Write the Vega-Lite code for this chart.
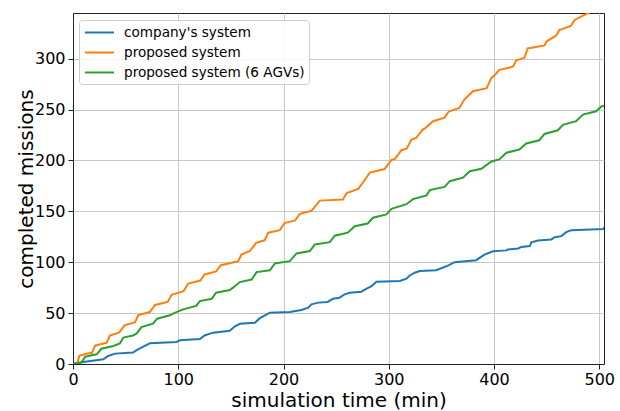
{
  "$schema": "https://vega.github.io/schema/vega-lite/v6.json",
  "width": 531,
  "height": 351,
  "autosize": {"type": "none"},
  "padding": {"left": 73, "top": 13, "right": 16, "bottom": 47},
  "background": "white",
  "config": {
    "font": "DejaVu Sans",
    "view": {"stroke": "#222222", "strokeWidth": 1},
    "axis": {
      "labelFont": "DejaVu Sans",
      "titleFont": "DejaVu Sans",
      "labelFontSize": 16,
      "titleFontSize": 20,
      "titleFontWeight": "normal",
      "labelColor": "#000000",
      "titleColor": "#000000",
      "tickColor": "#222222",
      "tickSize": 5,
      "domainColor": "#222222",
      "gridColor": "#c8c8c8",
      "gridWidth": 1
    },
    "legend": {"labelFont": "DejaVu Sans"}
  },
  "data": {
    "values": [
      {"series": "company's system", "t": 0, "v": 0},
      {"series": "company's system", "t": 2, "v": 0.7},
      {"series": "company's system", "t": 9.8, "v": 2},
      {"series": "company's system", "t": 28.8, "v": 4.6},
      {"series": "company's system", "t": 33.5, "v": 7.9},
      {"series": "company's system", "t": 40, "v": 10.2},
      {"series": "company's system", "t": 57, "v": 11.2},
      {"series": "company's system", "t": 60.5, "v": 13.7},
      {"series": "company's system", "t": 65, "v": 16},
      {"series": "company's system", "t": 73, "v": 20.3},
      {"series": "company's system", "t": 98.4, "v": 21.6},
      {"series": "company's system", "t": 101.6, "v": 23.3},
      {"series": "company's system", "t": 120.6, "v": 24.5},
      {"series": "company's system", "t": 125, "v": 28},
      {"series": "company's system", "t": 133, "v": 30.8},
      {"series": "company's system", "t": 149, "v": 32.6},
      {"series": "company's system", "t": 153.8, "v": 37},
      {"series": "company's system", "t": 158.5, "v": 39.5},
      {"series": "company's system", "t": 172.8, "v": 40.6},
      {"series": "company's system", "t": 177.5, "v": 45},
      {"series": "company's system", "t": 181, "v": 47},
      {"series": "company's system", "t": 187, "v": 50.4},
      {"series": "company's system", "t": 206, "v": 51},
      {"series": "company's system", "t": 217, "v": 53},
      {"series": "company's system", "t": 223.4, "v": 55.3},
      {"series": "company's system", "t": 226.6, "v": 58.6},
      {"series": "company's system", "t": 233, "v": 60.3},
      {"series": "company's system", "t": 242, "v": 61},
      {"series": "company's system", "t": 247, "v": 64.2},
      {"series": "company's system", "t": 253, "v": 65},
      {"series": "company's system", "t": 258, "v": 68.4},
      {"series": "company's system", "t": 263, "v": 70},
      {"series": "company's system", "t": 274, "v": 71},
      {"series": "company's system", "t": 279, "v": 74},
      {"series": "company's system", "t": 283.6, "v": 76.5},
      {"series": "company's system", "t": 288.3, "v": 80.9},
      {"series": "company's system", "t": 310.5, "v": 81.5},
      {"series": "company's system", "t": 316.8, "v": 83.8},
      {"series": "company's system", "t": 320, "v": 87},
      {"series": "company's system", "t": 324.7, "v": 89.7},
      {"series": "company's system", "t": 329.5, "v": 91.3},
      {"series": "company's system", "t": 345, "v": 92.2},
      {"series": "company's system", "t": 354.8, "v": 96},
      {"series": "company's system", "t": 362.6, "v": 100},
      {"series": "company's system", "t": 383, "v": 102},
      {"series": "company's system", "t": 391, "v": 107.5},
      {"series": "company's system", "t": 399, "v": 110.8},
      {"series": "company's system", "t": 411.8, "v": 111.6},
      {"series": "company's system", "t": 413, "v": 112.5},
      {"series": "company's system", "t": 423, "v": 113.5},
      {"series": "company's system", "t": 426, "v": 115},
      {"series": "company's system", "t": 434, "v": 115.8},
      {"series": "company's system", "t": 435.5, "v": 119.5},
      {"series": "company's system", "t": 441.8, "v": 121.4},
      {"series": "company's system", "t": 454.5, "v": 122.4},
      {"series": "company's system", "t": 457.6, "v": 124.6},
      {"series": "company's system", "t": 464, "v": 125.6},
      {"series": "company's system", "t": 468.7, "v": 129.5},
      {"series": "company's system", "t": 473.4, "v": 131.5},
      {"series": "company's system", "t": 503.5, "v": 132.5},
      {"series": "company's system", "t": 505, "v": 134},

      {"series": "proposed system", "t": 0, "v": 0},
      {"series": "proposed system", "t": 4, "v": 0},
      {"series": "proposed system", "t": 6, "v": 8},
      {"series": "proposed system", "t": 13, "v": 10},
      {"series": "proposed system", "t": 18, "v": 11},
      {"series": "proposed system", "t": 21, "v": 18},
      {"series": "proposed system", "t": 32, "v": 21},
      {"series": "proposed system", "t": 35, "v": 28},
      {"series": "proposed system", "t": 44, "v": 31},
      {"series": "proposed system", "t": 49, "v": 38},
      {"series": "proposed system", "t": 59, "v": 41},
      {"series": "proposed system", "t": 62, "v": 48},
      {"series": "proposed system", "t": 73, "v": 51},
      {"series": "proposed system", "t": 78, "v": 58},
      {"series": "proposed system", "t": 90, "v": 61},
      {"series": "proposed system", "t": 93.7, "v": 68},
      {"series": "proposed system", "t": 105, "v": 71.5},
      {"series": "proposed system", "t": 109.5, "v": 79},
      {"series": "proposed system", "t": 121, "v": 82},
      {"series": "proposed system", "t": 125, "v": 88},
      {"series": "proposed system", "t": 136, "v": 91},
      {"series": "proposed system", "t": 140.5, "v": 97},
      {"series": "proposed system", "t": 155, "v": 100.5},
      {"series": "proposed system", "t": 157, "v": 101},
      {"series": "proposed system", "t": 160, "v": 107.5},
      {"series": "proposed system", "t": 168, "v": 111},
      {"series": "proposed system", "t": 174, "v": 119},
      {"series": "proposed system", "t": 182, "v": 121.5},
      {"series": "proposed system", "t": 185.5, "v": 129},
      {"series": "proposed system", "t": 196.5, "v": 131.5},
      {"series": "proposed system", "t": 201, "v": 138.5},
      {"series": "proposed system", "t": 211, "v": 141},
      {"series": "proposed system", "t": 215.5, "v": 147.5},
      {"series": "proposed system", "t": 226.6, "v": 150.5},
      {"series": "proposed system", "t": 234.5, "v": 160.5},
      {"series": "proposed system", "t": 256.5, "v": 161.5},
      {"series": "proposed system", "t": 260, "v": 168},
      {"series": "proposed system", "t": 271, "v": 172},
      {"series": "proposed system", "t": 277, "v": 180.5},
      {"series": "proposed system", "t": 282, "v": 188},
      {"series": "proposed system", "t": 296, "v": 191.5},
      {"series": "proposed system", "t": 302.6, "v": 200.5},
      {"series": "proposed system", "t": 306, "v": 201.5},
      {"series": "proposed system", "t": 312, "v": 210},
      {"series": "proposed system", "t": 317, "v": 211.5},
      {"series": "proposed system", "t": 321.6, "v": 220.5},
      {"series": "proposed system", "t": 326, "v": 222},
      {"series": "proposed system", "t": 332, "v": 230},
      {"series": "proposed system", "t": 335, "v": 232},
      {"series": "proposed system", "t": 342, "v": 238.5},
      {"series": "proposed system", "t": 353, "v": 242},
      {"series": "proposed system", "t": 357, "v": 248},
      {"series": "proposed system", "t": 367, "v": 251.5},
      {"series": "proposed system", "t": 372, "v": 260},
      {"series": "proposed system", "t": 380, "v": 268},
      {"series": "proposed system", "t": 393, "v": 271},
      {"series": "proposed system", "t": 397.5, "v": 281},
      {"series": "proposed system", "t": 400, "v": 283},
      {"series": "proposed system", "t": 405, "v": 289},
      {"series": "proposed system", "t": 418, "v": 292},
      {"series": "proposed system", "t": 421, "v": 298},
      {"series": "proposed system", "t": 429, "v": 301},
      {"series": "proposed system", "t": 432, "v": 310},
      {"series": "proposed system", "t": 448, "v": 313},
      {"series": "proposed system", "t": 450, "v": 317},
      {"series": "proposed system", "t": 459, "v": 322.5},
      {"series": "proposed system", "t": 462, "v": 328},
      {"series": "proposed system", "t": 473, "v": 332},
      {"series": "proposed system", "t": 476.6, "v": 338},
      {"series": "proposed system", "t": 484, "v": 342},
      {"series": "proposed system", "t": 490, "v": 345},
      {"series": "proposed system", "t": 496, "v": 349},

      {"series": "proposed system (6 AGVs)", "t": 0, "v": 0},
      {"series": "proposed system (6 AGVs)", "t": 3, "v": 0},
      {"series": "proposed system (6 AGVs)", "t": 8, "v": 1.5},
      {"series": "proposed system (6 AGVs)", "t": 11.4, "v": 7},
      {"series": "proposed system (6 AGVs)", "t": 17.8, "v": 8.5},
      {"series": "proposed system (6 AGVs)", "t": 22.5, "v": 9.5},
      {"series": "proposed system (6 AGVs)", "t": 27, "v": 15},
      {"series": "proposed system (6 AGVs)", "t": 38.3, "v": 17.7},
      {"series": "proposed system (6 AGVs)", "t": 44.6, "v": 20.3},
      {"series": "proposed system (6 AGVs)", "t": 47.8, "v": 26},
      {"series": "proposed system (6 AGVs)", "t": 57, "v": 28},
      {"series": "proposed system (6 AGVs)", "t": 60.5, "v": 30},
      {"series": "proposed system (6 AGVs)", "t": 65, "v": 36.3},
      {"series": "proposed system (6 AGVs)", "t": 76, "v": 39.6},
      {"series": "proposed system (6 AGVs)", "t": 80, "v": 44.5},
      {"series": "proposed system (6 AGVs)", "t": 92, "v": 47.8},
      {"series": "proposed system (6 AGVs)", "t": 96, "v": 50},
      {"series": "proposed system (6 AGVs)", "t": 104.7, "v": 53.7},
      {"series": "proposed system (6 AGVs)", "t": 117, "v": 57},
      {"series": "proposed system (6 AGVs)", "t": 120.6, "v": 61.8},
      {"series": "proposed system (6 AGVs)", "t": 131.7, "v": 64},
      {"series": "proposed system (6 AGVs)", "t": 136, "v": 70},
      {"series": "proposed system (6 AGVs)", "t": 149, "v": 72.6},
      {"series": "proposed system (6 AGVs)", "t": 152, "v": 75},
      {"series": "proposed system (6 AGVs)", "t": 158.5, "v": 80.5},
      {"series": "proposed system (6 AGVs)", "t": 169.7, "v": 83},
      {"series": "proposed system (6 AGVs)", "t": 174.4, "v": 90.3},
      {"series": "proposed system (6 AGVs)", "t": 187, "v": 92},
      {"series": "proposed system (6 AGVs)", "t": 191.8, "v": 98.8},
      {"series": "proposed system (6 AGVs)", "t": 206, "v": 101},
      {"series": "proposed system (6 AGVs)", "t": 212.4, "v": 108.6},
      {"series": "proposed system (6 AGVs)", "t": 225, "v": 111},
      {"series": "proposed system (6 AGVs)", "t": 229.8, "v": 117.5},
      {"series": "proposed system (6 AGVs)", "t": 244, "v": 119.7},
      {"series": "proposed system (6 AGVs)", "t": 248.7, "v": 126},
      {"series": "proposed system (6 AGVs)", "t": 261, "v": 129},
      {"series": "proposed system (6 AGVs)", "t": 267.7, "v": 135.4},
      {"series": "proposed system (6 AGVs)", "t": 280, "v": 138},
      {"series": "proposed system (6 AGVs)", "t": 285, "v": 143.7},
      {"series": "proposed system (6 AGVs)", "t": 297.8, "v": 147},
      {"series": "proposed system (6 AGVs)", "t": 302.6, "v": 152.5},
      {"series": "proposed system (6 AGVs)", "t": 316.8, "v": 157},
      {"series": "proposed system (6 AGVs)", "t": 323, "v": 162},
      {"series": "proposed system (6 AGVs)", "t": 335.8, "v": 165.6},
      {"series": "proposed system (6 AGVs)", "t": 339, "v": 170.8},
      {"series": "proposed system (6 AGVs)", "t": 353, "v": 174},
      {"series": "proposed system (6 AGVs)", "t": 358, "v": 179.6},
      {"series": "proposed system (6 AGVs)", "t": 370.5, "v": 183},
      {"series": "proposed system (6 AGVs)", "t": 377, "v": 189.4},
      {"series": "proposed system (6 AGVs)", "t": 388, "v": 191.8},
      {"series": "proposed system (6 AGVs)", "t": 397.5, "v": 199},
      {"series": "proposed system (6 AGVs)", "t": 405, "v": 201},
      {"series": "proposed system (6 AGVs)", "t": 411.8, "v": 207.5},
      {"series": "proposed system (6 AGVs)", "t": 424, "v": 210.7},
      {"series": "proposed system (6 AGVs)", "t": 430.7, "v": 216.6},
      {"series": "proposed system (6 AGVs)", "t": 443, "v": 219.8},
      {"series": "proposed system (6 AGVs)", "t": 448, "v": 226},
      {"series": "proposed system (6 AGVs)", "t": 460.7, "v": 229.6},
      {"series": "proposed system (6 AGVs)", "t": 465.5, "v": 235},
      {"series": "proposed system (6 AGVs)", "t": 478, "v": 238.5},
      {"series": "proposed system (6 AGVs)", "t": 484.5, "v": 245},
      {"series": "proposed system (6 AGVs)", "t": 497, "v": 248.3},
      {"series": "proposed system (6 AGVs)", "t": 502, "v": 253},
      {"series": "proposed system (6 AGVs)", "t": 506, "v": 254}
    ]
  },
  "mark": {"type": "line", "strokeWidth": 2, "clip": true},
  "encoding": {
    "x": {
      "field": "t",
      "type": "quantitative",
      "scale": {"domain": [0, 504.5], "nice": false, "zero": false},
      "axis": {
        "title": "simulation time (min)",
        "values": [0, 100, 200, 300, 400, 500],
        "labelPadding": 2,
        "titlePadding": 3,
        "labelFlush": false
      }
    },
    "y": {
      "field": "v",
      "type": "quantitative",
      "scale": {"domain": [0, 344.8], "nice": false, "zero": false},
      "axis": {
        "title": "completed missions",
        "values": [0, 50, 100, 150, 200, 250, 300],
        "labelPadding": 3,
        "titlePadding": -2,
        "labelFlush": false
      }
    },
    "color": {
      "field": "series",
      "type": "nominal",
      "scale": {
        "domain": ["company's system", "proposed system", "proposed system (6 AGVs)"],
        "range": ["#1f77b4", "#ff7f0e", "#2ca02c"]
      },
      "legend": {
        "title": null,
        "orient": "none",
        "legendX": 6,
        "legendY": 7,
        "symbolType": "M-2,0H2",
        "symbolSize": 210,
        "symbolStrokeWidth": 2,
        "symbolOffset": 8,
        "labelFontSize": 13.6,
        "labelColor": "#000000",
        "labelOffset": 16,
        "labelLimit": 400,
        "rowPadding": 4,
        "padding": 4,
        "fillColor": "rgba(255,255,255,0.85)",
        "strokeColor": "#cccccc",
        "cornerRadius": 3
      }
    }
  }
}
